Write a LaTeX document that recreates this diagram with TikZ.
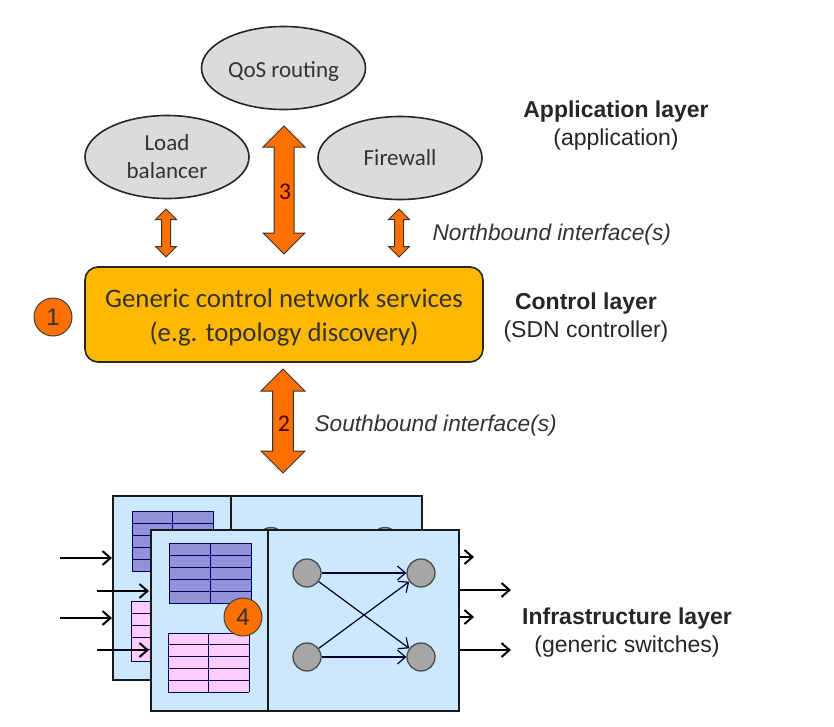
\documentclass[tikz,border=0pt]{standalone}
\usepackage{xcolor}
\usepackage{fontspec}
\setmainfont{Liberation Sans}
\newfontfamily\boxfont{Carlito}
\usepackage{tikz}
\usetikzlibrary{positioning, arrows.meta, shapes.geometric, shapes.arrows}

\definecolor{panelblue}{HTML}{CCE8FF}
\definecolor{tableblue}{HTML}{9292D8}
\definecolor{tablepink}{HTML}{FFCCFF}
\definecolor{ctrlorange}{HTML}{FFB800}
\definecolor{arroworange}{HTML}{FF7000}

\newcommand{\flowtable}[5]{%
    \fill[#5] (#1,#2) rectangle (#3,#4);
    \foreach \r in {0,...,5}
        \draw[tableline] (#1,{#2+\r*(#4-#2)/5}) -- (#3,{#2+\r*(#4-#2)/5});
    \draw[tableline] (#1,#2) -- (#1,#4) (#3,#2) -- (#3,#4) ({(#1+#3)/2},#2) -- ({(#1+#3)/2},#4);
}

\begin{document}
\begin{tikzpicture}[x=1pt, y=-1pt, >={Straight Barb[length=8pt, width=14pt]},
        app/.style={ellipse, draw=black!85, line width=1.6pt, fill=black!14, inner sep=0pt, minimum width=164pt, minimum height=83pt, font=\boxfont\fontsize{23}{28}\selectfont, text=black!80, align=center},
        bigarrow/.style={double arrow, shape border rotate=90, draw=black!80, line width=1pt, fill=arroworange, inner sep=0pt, text width=19pt, double arrow tip angle=90, double arrow head extend=11pt, minimum width=42pt},
        thinarrow/.style={bigarrow, text width=8pt, double arrow head extend=6pt, minimum width=20pt, minimum height=48pt},
        arrownum/.style={inner sep=0pt, font=\boxfont\fontsize{24}{24}\selectfont, text=black!70!red},
        badge/.style={circle, draw=black!75, line width=1pt, fill=arroworange, inner sep=0pt, minimum size=38pt, font=\fontsize{24}{24}\selectfont, text=black!80},
        layerlabel/.style={align=center, font=\fontsize{23}{28}\selectfont, text=black!85},
        ifacelabel/.style={anchor=west, font=\itshape\fontsize{22.7}{26}\selectfont, text=black!80},
        panel/.style={rectangle, draw=black!90, line width=1.8pt, fill=panelblue, inner sep=0pt, anchor=north west},
        port/.style={circle, draw=black!70, line width=1.3pt, fill=black!35, inner sep=0pt, minimum size=28pt},
        link/.style={->, draw=black!80!blue, line width=1.2pt},
        wire/.style={->, line width=2pt},
        tableline/.style={draw=black!60!blue, line width=0.9pt}]
    \useasboundingbox (0,0) rectangle (834,726);

    % application layer
    \node[app] (qos) at (283.5,68) {\rule{0pt}{22pt}QoS routing};
    \node[app] (lb) at (167,157) {Load\\balancer};
    \node[app] (fw) at (400,158) {Firewall};
    \node[bigarrow, minimum height=128pt] (north) at (284,190) {};
    \node[arrownum] (northnum) at (285,192) {3};
    \node[thinarrow] (northl) at (166,233) {};
    \node[thinarrow] (northr) at (399,233) {};
    \node[layerlabel] (applabel) at (616,126) {\textbf{Application layer}\\(application)};
    \node[ifacelabel] (nblabel) at (429,235) {Northbound interface(s)};

    % control layer
    \node[rectangle, rounded corners=13pt, draw=black!85, line width=1.6pt, fill=ctrlorange, minimum width=398pt, minimum height=95pt, align=center, font=\boxfont\fontsize{26.8}{34}\selectfont, text=black!80] (ctrl) at (284,314.5) {\rule{0pt}{25pt}Generic control network services\\(e.g. topology discovery)};
    \node[badge] (one) at (53,317) {1};
    \node[bigarrow, minimum width=44pt, minimum height=104pt] (south) at (283,421) {};
    \node[arrownum] (southnum) at (284,424) {2};
    \node[layerlabel] (ctrllabel) at (586,318) {\textbf{Control layer}\\(SDN controller)};
    \node[ifacelabel] (sblabel) at (311,426) {Southbound interface(s)};

    % back switch
    \node[panel, minimum width=309pt, minimum height=184pt] (back) at (112,495) {};
    \draw[line width=1.8pt, draw=black!90] (231,495) -- (231,679);
    \flowtable{132}{511}{213}{571}{tableblue}
    \flowtable{131}{601}{213}{661}{tablepink}
    \node[port] (backa) at (271,541.5) {};
    \node[port] (backb) at (385,541.5) {};
    \coordinate (ina) at (60,558);
    \coordinate (inb) at (60,618);
    \coordinate (inc) at (97,591);
    \coordinate (ind) at (97,650);
    \coordinate (backoa) at (474,557);
    \coordinate (backob) at (474,617);
    \draw[wire] (ina) -- (ina -| back.west);
    \draw[wire] (inb) -- (inb -| back.west);
    \draw[wire] (inc) -- +(52,0);
    \draw[wire] (ind) -- +(52,0);
    \draw[wire] (backoa -| back.east) -- (backoa);
    \draw[wire] (backob -| back.east) -- (backob);

    % front switch
    \node[panel, minimum width=308pt, minimum height=181pt] (front) at (150,529) {};
    \draw[line width=1.8pt, draw=black!90] (268,529) -- (268,710);
    \flowtable{169}{543}{251}{603}{tableblue}
    \flowtable{168}{633}{249}{692}{tablepink}
    \node[badge] (four) at (243,617) {4};
    \node[port] (pa) at (307,573) {};
    \node[port] (pb) at (421,573) {};
    \node[port] (pc) at (307,657) {};
    \node[port] (pd) at (421,657) {};
    \draw[link] (pa) -- (pb);
    \draw[link] (pc) -- (pd);
    \draw[link] (pa) -- (pd);
    \draw[link] (pc) -- (pb);
    \coordinate (outa) at (511,590);
    \coordinate (outb) at (511,650);
    \draw[wire] (outa -| front.east) -- (outa);
    \draw[wire] (outb -| front.east) -- (outb);
    \node[layerlabel] (inflabel) at (627,633) {\textbf{Infrastructure layer}\\(generic switches)};
\end{tikzpicture}
\end{document}
